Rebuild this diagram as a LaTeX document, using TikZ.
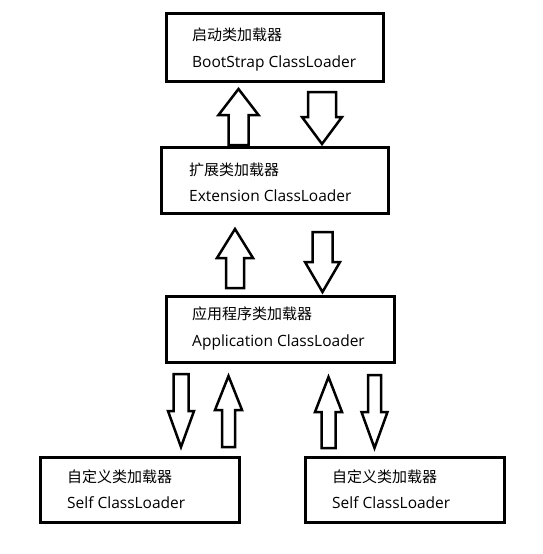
\documentclass[tikz,border=0pt]{standalone}
\usepackage{fontspec}
\setmainfont{Open Sans}
\newfontfamily\cjk{Noto Sans CJK SC}
\begin{document}
\begin{tikzpicture}[x=1pt,y=-1pt,
  boxstyle/.style={draw=black,line width=3pt,rectangle,inner sep=0pt},
  lbl/.style={anchor=base west,inner sep=0pt,font=\fontsize{15.5}{17}\selectfont},
  cjklbl/.style={anchor=base west,inner sep=0pt,font=\fontsize{15}{17}\cjk},
  barrowstyle/.style={draw=black,line width=2.5pt,fill=white,line join=miter}]
\useasboundingbox (0,0) rectangle (543,554);
% boxes
\node[boxstyle,minimum width=217pt,minimum height=68pt] (boot) at (275,47.5) {};
\node[boxstyle,minimum width=227pt,minimum height=66pt] (ext) at (275,180.5) {};
\node[boxstyle,minimum width=228pt,minimum height=66pt] (app) at (280.5,329.5) {};
\node[boxstyle,minimum width=199pt,minimum height=65pt] (self1) at (140,490) {};
\node[boxstyle,minimum width=199pt,minimum height=65pt] (self2) at (405,490) {};
% labels
\node[cjklbl] (t1a) at (192,40) {启动类加载器};
\node[lbl] (t1b) at (192,67) {BootStrap ClassLoader};
\node[cjklbl] (t2a) at (189,175) {扩展类加载器};
\node[lbl] (t2b) at (189,201) {Extension ClassLoader};
\node[cjklbl] (t3a) at (192,319) {应用程序类加载器};
\node[lbl] (t3b) at (192,346) {Application ClassLoader};
\node[cjklbl] (t4a) at (67,482) {自定义类加载器};
\node[lbl] (t4b) at (67,508) {Self ClassLoader};
\node[cjklbl] (t5a) at (332,482) {自定义类加载器};
\node[lbl] (t5b) at (332,508) {Self ClassLoader};
% block arrows: center x, tail y, head base y, tip y, shaft half width, head half width
\newcommand\blockarrow[6]{%
  \draw[barrowstyle] ({#1-#5},#2) -- ({#1-#5},#3) -- ({#1-#6},#3) -- (#1,#4)
    -- ({#1+#6},#3) -- ({#1+#5},#3) -- ({#1+#5},#2) -- cycle;}
\blockarrow{238.5}{145}{115}{89}{10}{20}
\blockarrow{322}{92}{117}{144}{14}{20}
\blockarrow{235}{288}{258}{229}{9}{18}
\blockarrow{322.5}{232}{262}{292}{10}{17.5}
\blockarrow{181}{374}{411}{447}{7.5}{13}
\blockarrow{228.5}{447}{410}{376}{6.5}{13.5}
\blockarrow{328.5}{448}{412}{377}{7}{13.5}
\blockarrow{374.5}{375}{412}{448}{6.5}{13}
\end{tikzpicture}
\end{document}
